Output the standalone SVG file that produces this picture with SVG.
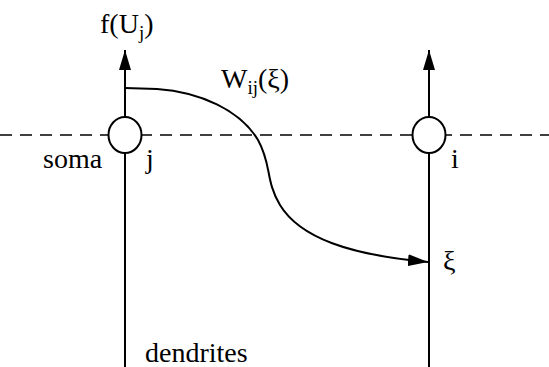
<svg xmlns="http://www.w3.org/2000/svg" width="549" height="367" viewBox="0 0 549 367">
<defs>
<marker id="ah" markerWidth="22" markerHeight="12" refX="20" refY="6" orient="auto" markerUnits="userSpaceOnUse">
<path d="M0,0 L20,6 L0,12 Z" fill="#000"/>
</marker>
</defs>
<line x1="0" y1="135" x2="549" y2="135" stroke="#000" stroke-width="1.5" stroke-dasharray="12,8"/>
<g id="connectors" stroke="#000" stroke-width="2" fill="none">
<line x1="125" y1="367" x2="125" y2="50" marker-end="url(#ah)"/>
<line x1="429" y1="367" x2="429" y2="50" marker-end="url(#ah)"/>
<path d="M125,88 L157,89 C200,92 240,110 258,140 C272,165 265,180 280,205 C300,238 350,255 428,262" marker-end="url(#ah)"/>
</g>
<g id="soma-j">
<ellipse cx="125" cy="135" rx="16.5" ry="18" fill="#fff" stroke="#000" stroke-width="2"/>
<text x="43" y="168" font-family="Times New Roman, Liberation Serif, serif" font-size="28">soma</text>
<text x="146" y="168" font-family="Times New Roman, Liberation Serif, serif" font-size="28">j</text>
</g>
<g id="soma-i">
<ellipse cx="429" cy="135" rx="16.5" ry="18" fill="#fff" stroke="#000" stroke-width="2"/>
<text x="451" y="168" font-family="Times New Roman, Liberation Serif, serif" font-size="28">i</text>
</g>
<text x="100" y="33" font-family="Times New Roman, Liberation Serif, serif" font-size="28">f(U<tspan font-size="19" dy="6">j</tspan><tspan dy="-6">)</tspan></text>
<text x="221" y="88" font-family="Times New Roman, Liberation Serif, serif" font-size="28">W<tspan font-size="19" dy="6">ij</tspan><tspan dy="-6">(&#958;)</tspan></text>
<text x="443" y="270" font-family="Times New Roman, Liberation Serif, serif" font-size="28">&#958;</text>
<text x="145" y="362" font-family="Times New Roman, Liberation Serif, serif" font-size="28">dendrites</text>
</svg>
